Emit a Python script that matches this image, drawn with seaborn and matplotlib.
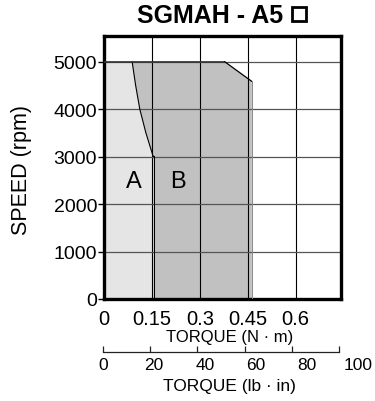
import matplotlib
matplotlib.use("Agg")
import matplotlib.pyplot as plt
import matplotlib.transforms as mtrans
from matplotlib.patches import Rectangle
import seaborn as sns

# ---- data ----
# region A boundary (continuous duty), top -> bottom
a_torque = [0.088, 0.099, 0.112, 0.131, 0.154, 0.158, 0.158]
a_speed = [5000, 4500, 4000, 3500, 3000, 3000, 0]
# region B boundary (intermittent duty), top -> bottom
b_torque = [0.377, 0.463, 0.463]
b_speed = [5000, 4580, 0]
top_speed = 5000

x_ticks = [0, 0.15, 0.3, 0.45, 0.6]
x_labels = ['0', '0.15', '0.3', '0.45', '0.6']
y_ticks = [0, 1000, 2000, 3000, 4000, 5000]
lb_ticks = [0, 20, 40, 60, 80, 100]
lb_labels = ['0', '20', '40', '60', '80', '100']

sns.set_theme(style='white')
plt.rcParams['font.family'] = ['Liberation Sans', 'DejaVu Sans']

W, H = 375, 402
fig = plt.figure(figsize=(W / 100, H / 100), dpi=100)
ax = fig.add_axes([104 / W, 1 - 300 / H, (341 - 104) / W, (300 - 37) / H])

# region A: from 0 to the A boundary
ax.fill_betweenx(a_speed, 0, a_torque, color='#e5e5e5', lw=0, zorder=1)
# region B: between A boundary and B boundary
poly_x = a_torque + b_torque[::-1]
poly_y = a_speed + b_speed[::-1]
ax.fill(poly_x, poly_y, color='#c1c1c1', lw=0, zorder=1)

sns.lineplot(x=a_torque, y=a_speed, sort=False, estimator=None,
             color='black', lw=0.8, ax=ax, zorder=3)
sns.lineplot(x=b_torque[:2], y=b_speed[:2], sort=False, estimator=None,
             color='black', lw=0.9, ax=ax, zorder=3)
sns.lineplot(x=b_torque[1:], y=b_speed[1:], sort=False, estimator=None,
             color='#8a8a8a', lw=0.7, ax=ax, zorder=3)
ax.plot([0, b_torque[0]], [top_speed, top_speed], color='#333333', lw=1.2, zorder=3)

ax.set_xlim(0, 0.742)
ax.set_ylim(0, 5537)
ax.set_xticks(x_ticks)
ax.set_xticklabels(x_labels)
ax.set_yticks(y_ticks)
ax.set_yticklabels([str(v) for v in y_ticks])
ax.set_axisbelow('line')
ax.xaxis.grid(True, color='black', lw=0.8)
ax.yaxis.grid(True, color='#555555', lw=0.9)
ax.tick_params(axis='x', length=0, pad=7, labelsize=14.5, colors='black')
ax.tick_params(axis='y', length=4, width=1, direction='out', pad=1,
               labelsize=14, colors='black', left=True)
for s in ax.spines.values():
    s.set_linewidth(2.4)
    s.set_color('black')
ax.set_xlabel('')
ax.set_ylabel('')

ax.text(0.094, 2490, 'A', ha='center', va='center', fontsize=17, color='black')
ax.text(0.232, 2490, 'B', ha='center', va='center', fontsize=17, color='black')

# secondary torque scale in lb.in
ax2 = fig.add_axes([103 / W, 1 - 353 / H, (339 - 103) / W, 0.0005])
for k in ['top', 'left', 'right']:
    ax2.spines[k].set_visible(False)
ax2.spines['bottom'].set_linewidth(0.9)
ax2.spines['bottom'].set_color('#222222')
ax2.set_xlim(0, 100)
ax2.set_yticks([])
ax2.set_xticks(lb_ticks)
ax2.set_xticklabels([])
ax2.tick_params(axis='x', direction='in', length=4, width=0.9, color='#222222', bottom=True)
tr = mtrans.blended_transform_factory(ax2.transData, fig.transFigure)
for v, lab in zip(lb_ticks, lb_labels):
    ax2.text(v * 1.08, 1 - 366 / H, lab, transform=tr, ha='center', va='center',
             fontsize=12.5, color='black')

fig.text(230 / W, 1 - 338 / H, 'TORQUE (N · m)', ha='center', va='center',
         fontsize=12, color='black')
fig.text(229 / W, 1 - 386.5 / H, 'TORQUE (lb · in)', ha='center', va='center',
         fontsize=12.5, color='black')
fig.text(21.7 / W, 1 - 170 / H, 'SPEED (rpm)', rotation=90, ha='center', va='center',
         fontsize=15.5, color='black')
fig.text(283.5 / W, 1 - 16 / H, 'SGMAH - A5', ha='right', va='center',
         fontsize=18, weight='bold', color='black')
# the hollow square after the model name
fig.add_artist(Rectangle((292.3 / W, 1 - 21.7 / H), 13.4 / W, 13.4 / H,
                         transform=fig.transFigure, fill=False, lw=2.0,
                         edgecolor='black'))

fig.savefig('out.png', dpi=100)
